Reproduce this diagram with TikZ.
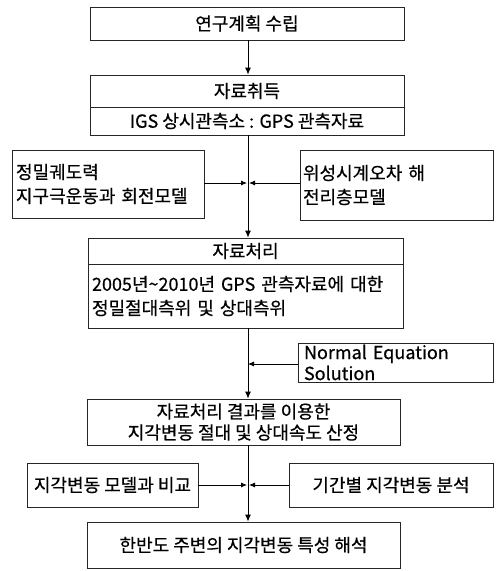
\documentclass[tikz,border=0pt]{standalone}
\usepackage{fontspec}
\setmainfont{Noto Sans CJK KR}[FakeBold=0.5]
\usetikzlibrary{arrows.meta}
\begin{document}
\begin{tikzpicture}[x=1pt,y=-1pt,
  every node/.style={font=\fontsize{18}{24}\selectfont},
  bx/.style={draw=black!85, line width=0.8pt, rectangle, inner sep=0pt},
  arr/.style={draw=black, line width=0.9pt, -{Latex[length=7pt,width=6pt]}},
  sarr/.style={draw=black, line width=0.8pt, -{Latex[length=6pt,width=5pt]}}]
\useasboundingbox (0,0) rectangle (496,571);
% main column
\node[bx, minimum width=314pt, minimum height=33pt] (b1) at (247,23.5) {연구계획 수립};
\node[bx, minimum width=314pt, minimum height=32pt] (b2a) at (247,91) {자료취득};
\node[bx, minimum width=314pt, minimum height=28pt] (b2b) at (247,121) {IGS 상시관측소 : GPS 관측자료};
\node[bx, minimum width=192pt, minimum height=68pt, text width=184pt, align=left] (l1) at (108,184) {정밀궤도력\\지구극운동과 회전모델};
\node[bx, minimum width=193pt, minimum height=70pt, text width=187pt, align=left] (r1) at (396.5,185) {위성시계오차 해\\전리층모델};
\node[bx, minimum width=315pt, minimum height=26pt] (b3a) at (245.5,251) {자료처리};
\node[bx, minimum width=315pt, minimum height=64pt, text width=307pt, align=left] (b3b) at (245.5,296) {2005년\textasciitilde 2010년 GPS 관측자료에 대한\\정밀절대측위 및 상대측위};
\node[bx, minimum width=195pt, minimum height=39pt, text width=183pt, align=left, font=\fontsize{18}{21}\selectfont] (ne) at (395.5,362.5) {Normal Equation\\Solution};
\node[bx, minimum width=313pt, minimum height=46pt, align=center, font=\fontsize{18}{21}\selectfont] (b4) at (243.5,422) {자료처리 결과를 이용한\\지각변동 절대 및 상대속도 산정};
\node[bx, minimum width=171pt, minimum height=44pt] (l2) at (112.5,485) {지각변동 모델과 비교};
\node[bx, minimum width=204pt, minimum height=44pt] (r2) at (391,485) {기간별 지각변동 분석};
\node[bx, minimum width=313pt, minimum height=46pt] (b7) at (243.5,545) {한반도 주변의 지각변동 특성 해석};
% connectors
\coordinate (m1) at (248,183);
\coordinate (m2) at (248,364);
\coordinate (m3) at (248,485);
\draw[arr] (b1.south -| m1) -- (b2a.north -| m1);
\draw[arr] (b2b.south -| m1) -- (b3a.north -| m1);
\draw[sarr] (l1.east |- m1) -- ([xshift=-1pt]m1);
\draw[sarr] (r1.west |- m1) -- ([xshift=1pt]m1);
\draw[arr] (b3b.south -| m2) -- (b4.north -| m2);
\draw[sarr] (ne.west |- m2) -- (m2);
\draw[arr] (b4.south -| m3) -- (b7.north -| m3);
\draw[sarr] (l2.east |- m3) -- ([xshift=-1pt]m3);
\draw[sarr] (r2.west |- m3) -- ([xshift=1pt]m3);
\end{tikzpicture}
\end{document}
